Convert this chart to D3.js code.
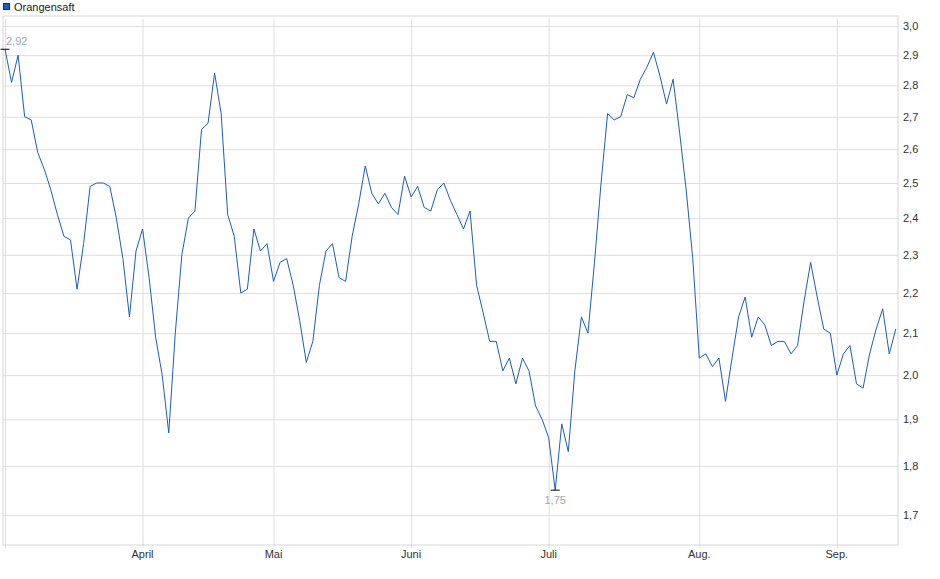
<!DOCTYPE html>
<html>
<head>
<meta charset="utf-8">
<script src="https://cdn.jsdelivr.net/npm/d3@7"></script>
<style>
  body { margin: 0; background: #fff; }
  svg { display: block; font-family: 'Liberation Sans', Arial, sans-serif; }
</style>
</head>
<body>
<svg width="940" height="579"></svg>
<script>
  const seriesName = 'Orangensaft';

  // closing prices, one per trading day
  const prices = [
    2.92, 2.81, 2.90, 2.70, 2.69, 2.59, 2.54, 2.48, 2.41, 2.35,
    2.34, 2.21, 2.33, 2.49, 2.50, 2.50, 2.49, 2.40, 2.29, 2.14,
    2.31, 2.37, 2.24, 2.09, 2.00, 1.87, 2.10, 2.30, 2.40, 2.42,
    2.66, 2.68, 2.84, 2.71, 2.41, 2.35, 2.20, 2.21, 2.37, 2.31,
    2.33, 2.23, 2.28, 2.29, 2.22, 2.13, 2.03, 2.08, 2.22, 2.31,
    2.33, 2.24, 2.23, 2.35, 2.44, 2.55, 2.47, 2.44, 2.47, 2.43,
    2.41, 2.52, 2.46, 2.49, 2.43, 2.42, 2.48, 2.50, 2.45, 2.41,
    2.37, 2.42, 2.22, 2.15, 2.08, 2.08, 2.01, 2.04, 1.98, 2.04,
    2.01, 1.93, 1.90, 1.86, 1.75, 1.89, 1.83, 2.01, 2.14, 2.10,
    2.28, 2.50, 2.71, 2.69, 2.70, 2.77, 2.76, 2.82, 2.86, 2.91,
    2.83, 2.74, 2.82, 2.65, 2.48, 2.29, 2.04, 2.05, 2.02, 2.04,
    1.94, 2.04, 2.14, 2.19, 2.09, 2.14, 2.12, 2.07, 2.08, 2.08,
    2.05, 2.07, 2.18, 2.28, 2.19, 2.11, 2.10, 2.00, 2.05, 2.07,
    1.98, 1.97, 2.05, 2.11, 2.16, 2.05, 2.11
  ];

  // month starts (trading day index) and their labels
  const monthIdx = [0, 21, 41, 62, 83, 106, 127];
  const monthLabels = ['', 'April', 'Mai', 'Juni', 'Juli', 'Aug.', 'Sep.'];

  // y ticks
  const yTicks = [1.7, 1.8, 1.9, 2.0, 2.1, 2.2, 2.3, 2.4, 2.5, 2.6, 2.7, 2.8, 2.9, 3.0];
  const yDomain = [1.642, 3.035];

  const svg = d3.select('svg');
  const width = +svg.attr('width');
  const height = +svg.attr('height');

  const margin = { top: 16, right: 42, bottom: 34, left: 3 };
  const innerWidth = width - margin.left - margin.right;
  const innerHeight = height - margin.top - margin.bottom;

  const de = d3.formatLocale({ decimal: ',', thousands: '.', grouping: [3], currency: ['', ' €'] });
  const fmt1 = de.format('.1f');
  const fmt2 = de.format('.2f');

  const xScale = d3.scaleLinear()
    .domain([0, prices.length - 1])
    .range([2, 892.8]);

  const yScale = d3.scaleLog()
    .domain(yDomain)
    .range([innerHeight, 0]);

  const g = svg.append('g')
    .attr('transform', `translate(${margin.left},${margin.top})`);

  // horizontal grid lines (axis without labels)
  const yAxisG = g.append('g')
    .call(d3.axisLeft(yScale)
      .tickValues(yTicks)
      .tickFormat('')
      .tickSize(-innerWidth));
  yAxisG.select('.domain').remove();
  yAxisG.selectAll('.tick line').attr('stroke', '#dedede');
  yAxisG.selectAll('.tick text').remove();

  // vertical grid at month starts
  const xAxisG = g.append('g')
    .attr('transform', `translate(0,${innerHeight})`)
    .call(d3.axisBottom(xScale)
      .tickValues(monthIdx)
      .tickFormat('')
      .tickSizeInner(-innerHeight)
      .tickSizeOuter(0));
  xAxisG.select('.domain').remove();
  xAxisG.selectAll('.tick line')
    .attr('stroke', '#dedede')
    .attr('y2', 3 - innerHeight)
    .attr('y1', 3);
  xAxisG.selectAll('.tick text').remove();

  // right value labels
  g.append('g').selectAll('text').data(yTicks)
    .enter().append('text')
      .attr('x', innerWidth + 5)
      .attr('y', d => yScale(d) + 4)
      .attr('font-size', 11)
      .attr('fill', '#333')
      .text(fmt1);

  // month labels
  g.append('g').selectAll('text').data(monthIdx.filter((d, i) => monthLabels[i]))
    .enter().append('text')
      .attr('x', d => xScale(d))
      .attr('y', innerHeight + 13)
      .attr('text-anchor', 'middle')
      .attr('font-size', 11)
      .attr('fill', '#333')
      .text(d => monthLabels[monthIdx.indexOf(d)]);

  // frame
  g.append('rect')
    .attr('width', innerWidth)
    .attr('height', innerHeight)
    .attr('fill', 'none')
    .attr('stroke', '#d6d6d6');

  // price line
  const line = d3.line()
    .x((d, i) => xScale(i))
    .y(d => yScale(d));

  g.append('path')
    .datum(prices)
    .attr('fill', 'none')
    .attr('stroke', '#1b5cc6')
    .attr('stroke-width', 1)
    .attr('d', line);

  // high / low markers
  const hiI = d3.maxIndex(prices);
  const loI = d3.minIndex(prices);

  const mark = (i, dy, anchor, dx) => {
    const x = xScale(i);
    const y = yScale(prices[i]);
    g.append('line')
      .attr('x1', x - 4.5).attr('x2', x + 4.5)
      .attr('y1', y).attr('y2', y)
      .attr('stroke', '#000');
    g.append('text')
      .attr('x', x + dx)
      .attr('y', y + dy)
      .attr('text-anchor', anchor)
      .attr('font-size', 11)
      .attr('fill', '#a0a8b8')
      .text(fmt2(prices[i]));
  };
  mark(hiI, -4, 'start', 1);
  mark(loI, 14, 'middle', 0);

  // legend
  svg.append('rect')
    .attr('x', 3.5).attr('y', 3.5)
    .attr('width', 6).attr('height', 6)
    .attr('fill', '#1b5cc6')
    .attr('stroke', '#0d2f6e');
  svg.append('text')
    .attr('x', 14)
    .attr('y', 10.5)
    .attr('font-size', 11)
    .attr('fill', '#222')
    .text(seriesName);
</script>
</body>
</html>
